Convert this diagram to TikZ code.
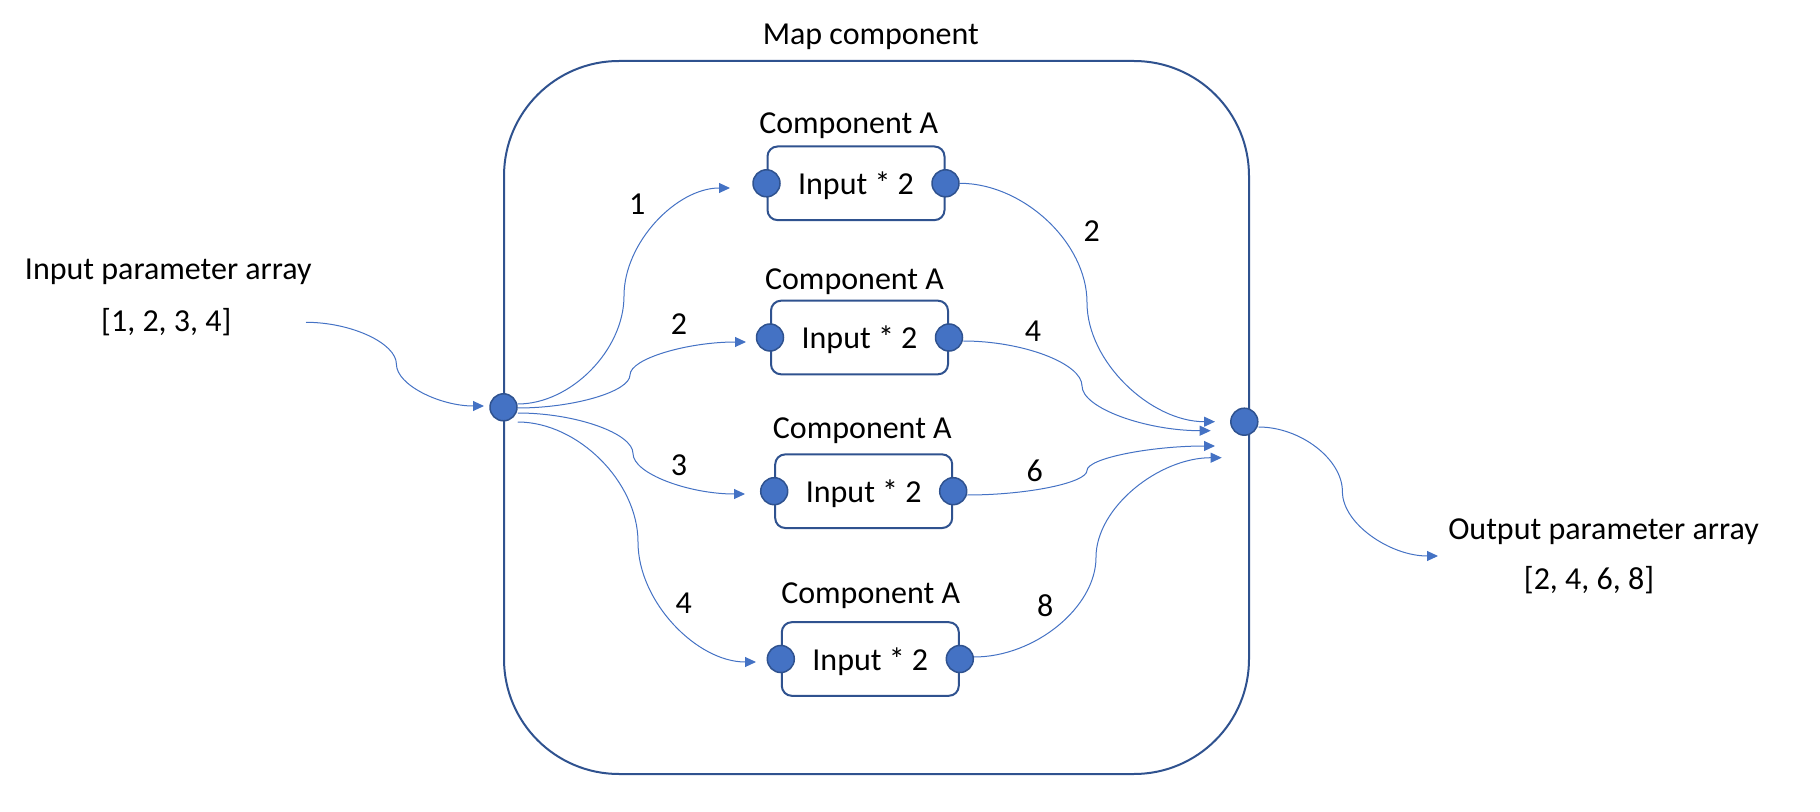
\documentclass[tikz,border=0pt]{standalone}
\usepackage{fontspec}
\setmainfont{Carlito}
\usetikzlibrary{arrows.meta,calc}
\definecolor{darkb}{HTML}{2F528F}
\definecolor{midb}{HTML}{4472C4}
% S-shaped connector: start, mid-x point, end
\newcommand\sconn[3]{\draw[conn] let \p1=(#1), \p2=(#3), \p3=(#2) in
  (\p1) .. controls ({0.5*(\x1+\x3)},\y1) and (\x3,{\y1+0.25*(\y2-\y1)}) .. (\x3,{0.5*(\y1+\y2)})
  .. controls (\x3,{\y1+0.75*(\y2-\y1)}) and ({0.5*(\x3+\x2)},\y2) .. (\p2);}
\begin{document}
\begin{tikzpicture}[x=0.5pt,y=-0.5pt,
  txt/.style={anchor=base, inner sep=0pt, font=\fontsize{16pt}{19pt}\selectfont},
  port/.style={circle, fill=midb, draw=darkb, line width=0.75pt, minimum size=13.5pt, inner sep=0pt},
  compbox/.style={draw=darkb, line width=1pt, rounded corners=5pt, minimum width=88.5pt, minimum height=36.8pt, inner sep=0pt},
  mapbox/.style={draw=darkb, line width=1pt, rounded corners=57.5pt, minimum width=372.5pt, minimum height=356.5pt, inner sep=0pt},
  conn/.style={draw=midb, line width=0.5pt, -{Triangle[length=5.5pt,width=5pt]}}]
\useasboundingbox (0,0) rectangle (1820,812);

% outer map component
\node[mapbox] (map) at (876.5,417.5) {};
\node[txt] (maplbl) at (870.8,45) {Map component};

% component boxes
\node[compbox] (b1) at (856,183.3) {};
\node[compbox] (b2) at (859.5,337.5) {};
\node[compbox] (b3) at (863.7,491.2) {};
\node[compbox] (b4) at (870.3,659) {};
\node[txt] (c1) at (848.7,134) {Component A};
\node[txt] (c2) at (854.5,290) {Component A};
\node[txt] (c3) at (862.3,438.3) {Component A};
\node[txt] (c4) at (870.7,603.3) {Component A};
\node[txt] (i1) at ([yshift=-5.75pt]b1.center) {Input * 2};
\node[txt] (i2) at ([yshift=-5.75pt]b2.center) {Input * 2};
\node[txt] (i3) at ([yshift=-5.75pt]b3.center) {Input * 2};
\node[txt] (i4) at ([yshift=-5.75pt]b4.center) {Input * 2};

% outside texts
\node[txt] (inlbl) at (168.3,280) {Input parameter array};
\node[txt] (inval) at (166.3,331.7) {[1, 2, 3, 4]};
\node[txt] (outlbl) at (1603.5,539.3) {Output parameter array};
\node[txt] (outval) at (1589,589.3) {[2, 4, 6, 8]};

% number labels
\node[txt] (n1) at (637.3,215) {1};
\node[txt] (n2) at (679,335) {2};
\node[txt] (n3) at (679,475) {3};
\node[txt] (n4) at (683.7,613) {4};
\node[txt] (r1) at (1091.7,242) {2};
\node[txt] (r2) at (1033,342) {4};
\node[txt] (r3) at (1034.8,481) {6};
\node[txt] (r4) at (1045.2,616) {8};

% connector free ends
\coordinate (sin) at (306,322.3);
\coordinate (tin) at (484,406);
\coordinate (t1) at (730,188);
\coordinate (t2) at (746,342);
\coordinate (t3) at (745,494);
\coordinate (t4) at (756,662);
\coordinate (u1) at (1215,421.7);
\coordinate (u2) at (1210.7,430.7);
\coordinate (u3) at (1215,446);
\coordinate (u4) at (1221.7,457.7);
\coordinate (tout) at (1438,556);

% ports (positions)
\coordinate (pinc) at (503.5,407.3);
\coordinate (poutc) at (1244.3,421.7);

% connectors
\node[port] (pin) at (pinc) {};
\node[port] (pout) at (poutc) {};
\node[port] (b1i) at (b1.west) {};
\node[port] (b1o) at (b1.east) {};
\node[port] (b2i) at (b2.west) {};
\node[port] (b2o) at (b2.east) {};
\node[port] (b3i) at (b3.west) {};
\node[port] (b3o) at (b3.east) {};
\node[port] (b4i) at (b4.west) {};
\node[port] (b4o) at (b4.east) {};

\sconn{sin}{396.4,0}{tin}
\sconn{[yshift=1.65pt]pin.east}{624,0}{t1}
\sconn{[yshift=-0.35pt]pin.east}{630,0}{t2}
\sconn{[yshift=-2.85pt]pin.east}{633,0}{t3}
\sconn{[yshift=-7.35pt]pin.east}{638,0}{t4}
\sconn{b1o.east}{1087,0}{u1}
\sconn{[yshift=-1.75pt]b2o.east}{1082,0}{u2}
\sconn{[yshift=-1.9pt]b3o.east}{1087,0}{u3}
\sconn{[yshift=1pt]b4o.east}{1096,0}{u4}
\sconn{[yshift=-2.65pt]pout.east}{1342.4,0}{tout}
\end{tikzpicture}
\end{document}
